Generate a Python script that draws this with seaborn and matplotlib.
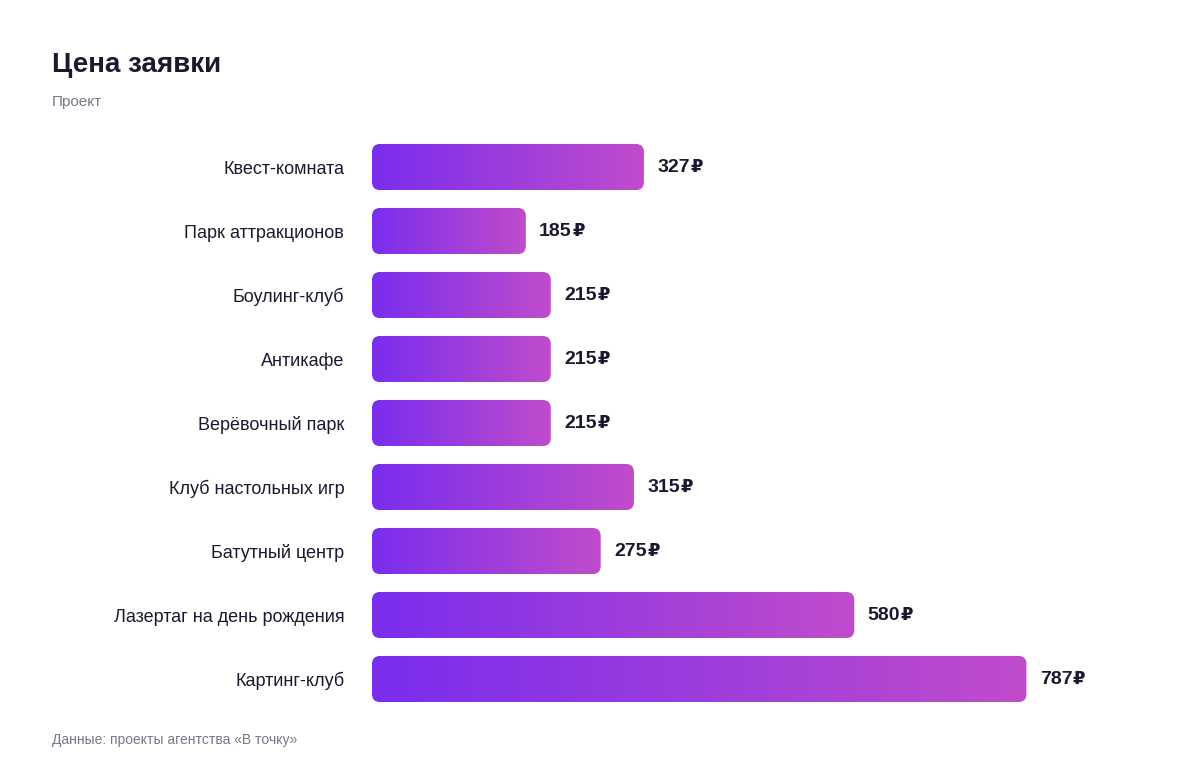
import numpy as np
import matplotlib.pyplot as plt
import seaborn as sns
from matplotlib.colors import LinearSegmentedColormap
from matplotlib.patches import FancyBboxPatch

categories = ["Квест-комната", "Парк аттракционов", "Боулинг-клуб", "Антикафе",
              "Верёвочный парк", "Клуб настольных игр", "Батутный центр",
              "Лазертаг на день рождения", "Картинг-клуб"]
values = [327, 185, 215, 215, 215, 315, 275, 580, 787]

sns.set_style("white")
plt.rcParams["font.family"] = ["Liberation Sans", "DejaVu Sans"]

fig = plt.figure(figsize=(12, 7.76), dpi=100)
ax = fig.add_axes([0.31, 1 - 711 / 776, 0.61, 576 / 776])
sns.barplot(x=values, y=categories, orient="h", color="#7B2FF0", width=0.72, ax=ax)
ax.set_xlim(0, 728 / 0.827)
ax.set_ylim(8.5, -0.5)

cmap = LinearSegmentedColormap.from_list("g", ["#7A2DEE", "#C04CCB"])
grad = np.linspace(0, 1, 256).reshape(1, -1)
for bar in list(ax.patches):
    x0, y0 = bar.get_x(), bar.get_y()
    w, h = bar.get_width(), bar.get_height()
    bar.set_visible(False)
    clip = FancyBboxPatch((x0, y0), w, h, boxstyle="round,pad=0,rounding_size=0.125",
                          mutation_aspect=0.125 / 9.7 * 0 + 1, transform=ax.transData,
                          facecolor="none", edgecolor="none")
    clip = FancyBboxPatch((x0, y0), w, h,
                          boxstyle="round,pad=0,rounding_size=9.7",
                          mutation_aspect=0.125 / 9.7,
                          facecolor="none", edgecolor="none")
    ax.add_patch(clip)
    im = ax.imshow(grad, cmap=cmap, aspect="auto", extent=(x0, x0 + w, y0 + h, y0),
                   interpolation="bicubic", zorder=2)
    im.set_clip_path(clip)
    ax.text(x0 + w + 16, y0 + h / 2, f"{int(w)}", ha="left", va="center",
            fontsize=14, fontweight="bold", color="#1a1a2e")
    ax.text(x0 + w + 16 + 12 * len(str(int(w))) * 0 + 40, y0 + h / 2, "₽",
            ha="left", va="center", fontsize=13, fontweight="bold", color="#1a1a2e",
            family=["DejaVu Sans"])

ax.set_xlim(0, 728 / 0.827)
ax.set_ylim(8.5, -0.5)
ax.set_xlabel("")
ax.set_ylabel("")
ax.set_xticks([])
ax.tick_params(axis="y", length=0, pad=20, labelsize=13, labelcolor="#1a1a2e")
sns.despine(ax=ax, left=True, bottom=True)

fig.text(52 / 1200, 1 - 65 / 776, "Цена заявки", fontsize=20, fontweight="bold",
         color="#1a1a2e", va="center")
fig.text(52 / 1200, 1 - 102 / 776, "Проект", fontsize=11, color="#777788", va="center")
fig.text(52 / 1200, 1 - 740 / 776, "Данные: проекты агентства «В точку»", fontsize=10,
         color="#777788", va="center")

fig.savefig("out.png", dpi=100)
